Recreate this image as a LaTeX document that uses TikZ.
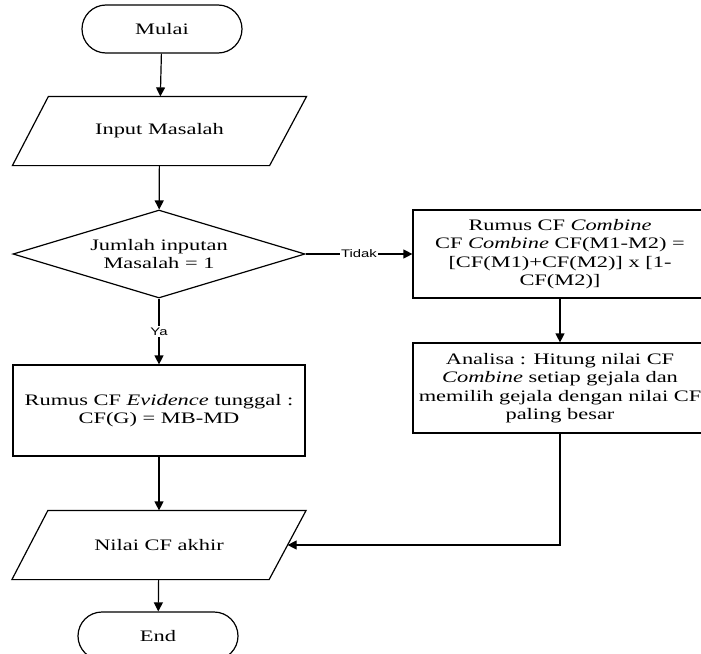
\documentclass[tikz,border=0pt]{standalone}
\usepackage{fontspec}
\setmainfont{Liberation Serif}[FakeStretch=1.4]
\newfontfamily\labelfont{Liberation Sans}[FakeStretch=1.35]
\usepackage{tikz}
\usetikzlibrary{shapes.geometric}
\usetikzlibrary{arrows.meta}
\tikzset{
terminal/.style={draw,rectangle,rounded corners=24pt,minimum width=160pt,minimum height=48pt,inner sep=0pt},
io/.style={rectangle,minimum width=293pt,minimum height=68pt,inner sep=0pt},
proses/.style={draw,rectangle,minimum width=294pt,inner sep=0pt,align=center},
cabang/.style={draw,diamond,aspect=3.32,minimum width=292pt,minimum height=88pt,inner sep=0pt,align=center},
panah/.style={-{Triangle[length=9pt,width=9pt]}},
ket/.style={fill=white,inner sep=1.5pt,font=\labelfont\fontsize{11}{13}\selectfont}
}
\newcommand{\jajargenjang}[1]{
\draw ([xshift=36pt]#1.north west) -- (#1.north east) -- ([xshift=-37pt]#1.south east) -- (#1.south west) -- cycle;
}

\begin{document}
\begin{tikzpicture}[x=1pt,y=-1pt,line width=1.2pt,font=\fontsize{16}{18.5}\selectfont]
\useasboundingbox (0,0) rectangle (701,653);
\clip (0,0) rectangle (701,653);
\node[terminal] (mulai) at (162,29) {Mulai};
\node[io] (input) at (159.5,131) {Input Masalah};
\jajargenjang{input}
\node[cabang] (cek) at (159,254) {Jumlah inputan\\Masalah = 1};
\node[proses,minimum width=292pt,minimum height=91pt] (evidence) at (159,410.5) {Rumus CF \textit{Evidence} tunggal :\\CF(G) = MB-MD};
\node[io] (nilai) at (159,545) {Nilai CF akhir};
\jajargenjang{nilai}
\coordinate (nilaiR) at ([xshift=-18.5pt]nilai.east);
\node[terminal] (end) at (158,636) {End};
\node[proses,minimum height=88pt] (combine) at (560,254) {Rumus CF \textit{Combine}\\CF \textit{Combine} CF(M1-M2) =\\{}[CF(M1)+CF(M2)] x [1-\\CF(M2)]};
\node[proses,minimum height=90pt] (analisa) at (560,388) {Analisa : Hitung nilai CF\\\textit{Combine} setiap gejala dan\\memilih gejala dengan nilai CF\\paling besar};

\draw[panah] (mulai) -- (input);
\draw[panah] (input) -- (cek);
\draw[panah] (cek) -- node[ket] {Ya} (evidence);
\draw[panah] (cek) -- node[ket] {Tidak} (combine);
\draw[panah] (combine) -- (analisa);
\draw[panah] (evidence) -- (nilai);
\draw[panah] (nilai) -- (end);
\draw[panah] (analisa.south) |- (nilaiR);
\end{tikzpicture}
\end{document}
